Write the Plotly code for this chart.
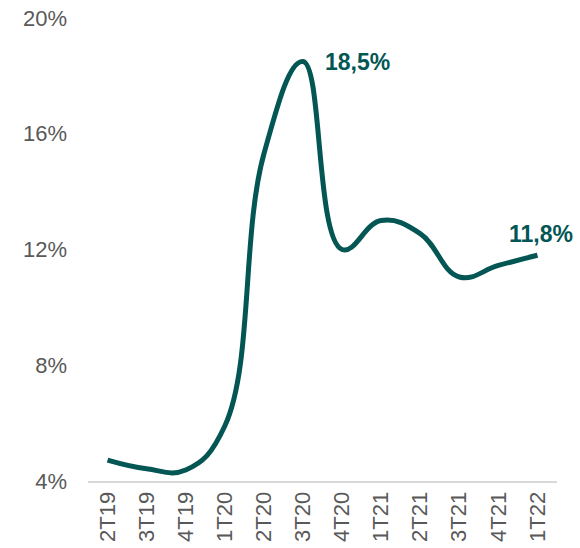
import plotly.graph_objects as go

quarters = ["2T19", "3T19", "4T19", "1T20", "2T20", "3T20", "4T20",
            "1T21", "2T21", "3T21", "4T21", "1T22"]
rate = [4.72, 4.42, 4.38, 5.9, 15.3, 18.5, 12.0, 13.0, 12.55, 11.05, 11.45, 11.8]
tick_vals = [4, 8, 12, 16, 20]
tick_text = ["4%", "8%", "12%", "16%", "20%"]
labels = {"3T20": "18,5%", "1T22": "11,8%"}

color = "#035654"
font_family = "Arial, Liberation Sans, sans-serif"

fig = go.Figure()
fig.add_trace(go.Scatter(
    x=list(range(len(quarters))), y=rate, mode="lines",
    line=dict(color=color, width=5, shape="spline", smoothing=1.2),
    hoverinfo="skip", showlegend=False,
))

for q, txt in labels.items():
    i = quarters.index(q)
    if q == "3T20":
        fig.add_annotation(x=i, y=rate[i], text=f"<b>{txt}</b>", showarrow=False,
                           xanchor="left", yanchor="middle", xshift=20, yshift=-1,
                           font=dict(size=23, color=color, family=font_family))
    else:
        fig.add_annotation(x=i, y=rate[i], text=f"<b>{txt}</b>", showarrow=False,
                           xanchor="center", yanchor="bottom", xshift=4, yshift=6,
                           font=dict(size=23, color=color, family=font_family))

fig.update_layout(
    width=580, height=548,
    margin=dict(l=88, r=23, t=18, b=67),
    paper_bgcolor="white", plot_bgcolor="white",
    font=dict(family=font_family, size=22, color="#595959"),
)
fig.update_xaxes(
    range=[-0.5, len(quarters) - 0.5],
    tickmode="array", tickvals=list(range(len(quarters))), ticktext=quarters,
    tickangle=-90, showgrid=False, zeroline=False,
    showline=True, linecolor="#d9d9d9", linewidth=2,
    ticks="", ticklabelstandoff=0, automargin=False,
    tickfont=dict(size=22, color="#595959"),
)
fig.update_yaxes(
    range=[4, 20], tickmode="array", tickvals=tick_vals, ticktext=tick_text,
    showgrid=False, zeroline=False, showline=False, ticks="",
    ticklabelstandoff=20, automargin=False,
    tickfont=dict(size=22, color="#595959"),
)

fig.write_html("out.html", config={"displayModeBar": False},
               post_script="document.body.style.margin='0';document.body.style.overflow='hidden';")
